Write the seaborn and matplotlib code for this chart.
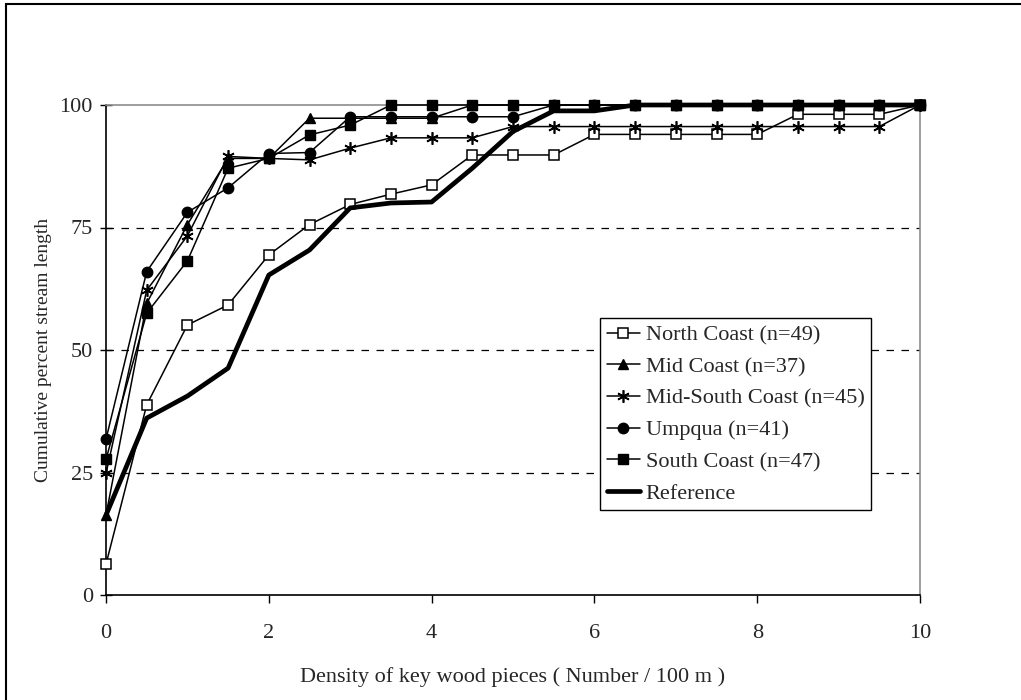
import numpy as np
import pandas as pd
import matplotlib
matplotlib.use("Agg")
import matplotlib.pyplot as plt
import seaborn as sns
from matplotlib.patches import Rectangle

# ---- data ----
density = [0, 0.5, 1, 1.5, 2, 2.5, 3, 3.5, 4, 4.5, 5, 5.5, 6, 6.5, 7, 7.5, 8, 8.5, 9, 9.5, 10]

north_coast = [6.3, 38.8, 55.1, 59.2, 69.4, 75.6, 79.7, 81.8, 83.7, 89.8, 89.8, 89.8, 94.0,
               94.0, 94.0, 94.0, 94.0, 98.1, 98.1, 98.1, 100]
mid_coast = [16.3, 59.5, 75.6, 89.1, 89.1, 97.3, 97.3, 97.3, 97.3, 100, 100, 100, 100,
             100, 100, 100, 100, 100, 100, 100, 100]
mid_south_coast = [24.8, 62.2, 73.3, 89.5, 89.1, 88.8, 91.2, 93.3, 93.3, 93.3, 95.6, 95.6, 95.6,
                   95.6, 95.6, 95.6, 95.6, 95.6, 95.6, 95.6, 100]
umpqua = [31.8, 66.0, 78.1, 83.1, 90.1, 90.3, 97.6, 97.6, 97.6, 97.6, 97.6, 100, 100,
          100, 100, 100, 100, 100, 100, 100, 100]
south_coast = [27.7, 57.5, 68.2, 87.1, 89.1, 93.9, 95.9, 100, 100, 100, 100, 100, 100,
               100, 100, 100, 100, 100, 100, 100, 100]
reference = [16.3, 36.1, 40.6, 46.3, 65.3, 70.4, 79.0, 80.0, 80.2, 87.1, 94.6, 98.8, 98.8,
             100, 100, 100, 100, 100, 100, 100, 100]

series_names = ["North Coast (n=49)", "Mid Coast (n=37)", "Mid-South Coast (n=45)",
                "Umpqua (n=41)", "South Coast (n=47)", "Reference"]
series_values = [north_coast, mid_coast, mid_south_coast, umpqua, south_coast, reference]

x_ticks = [0, 2, 4, 6, 8, 10]
y_ticks = [0, 25, 50, 75, 100]

df = pd.DataFrame({
    "density": np.tile(density, len(series_names)),
    "value": np.concatenate(series_values),
    "series": np.repeat(series_names, len(density)),
})

# ---- style ----
sns.set_style("white")
plt.rcParams["font.family"] = ["Liberation Serif", "DejaVu Serif"]
plt.rcParams["font.size"] = 16

fig = plt.figure(figsize=(10.21, 7.0), dpi=100)
ax = fig.add_axes([106 / 1021, 1 - 595 / 700, (920 - 106) / 1021, (595 - 105) / 700])

styles = {
    "North Coast (n=49)": dict(marker="s", mfc="white", mec="black", ms=6.5, mew=1.1, lw=1.1),
    "Mid Coast (n=37)": dict(marker="^", mfc="black", mec="black", ms=7.5, mew=1, lw=1.1),
    "Mid-South Coast (n=45)": dict(marker=(6, 2, 0), mfc="black", mec="black", ms=9, mew=1.2, lw=1.1),
    "Umpqua (n=41)": dict(marker="o", mfc="black", mec="black", ms=7.5, mew=1, lw=1.1),
    "South Coast (n=47)": dict(marker="s", mfc="black", mec="black", ms=7, mew=1, lw=1.1),
    "Reference": dict(marker=None, lw=3.4),
}

for name in series_names:
    st = styles[name]
    sub = df[df["series"] == name]
    kw = dict(color="black", linewidth=st["lw"], clip_on=False, zorder=5 if name == "Reference" else 4)
    if st["marker"] is not None:
        kw.update(marker=st["marker"], markerfacecolor=st["mfc"], markeredgecolor=st["mec"],
                  markersize=st["ms"], markeredgewidth=st["mew"])
    sns.lineplot(data=sub, x="density", y="value", ax=ax, label=name, **kw)

ax.set_xlim(0, 10)
ax.set_ylim(0, 100)
ax.set_xticks(x_ticks)
ax.set_yticks(y_ticks)
ax.set_xticklabels([str(t) for t in x_ticks])
ax.set_yticklabels([str(t) for t in y_ticks])

for y in [25, 50, 75]:
    ax.axhline(y, color="black", lw=0.9, ls=(0, (6, 6)), zorder=1)

ax.spines["left"].set_color("black")
ax.spines["bottom"].set_color("black")
ax.spines["left"].set_linewidth(1.2)
ax.spines["bottom"].set_linewidth(1.2)
ax.spines["top"].set_color("#8c8c8c")
ax.spines["right"].set_color("#8c8c8c")
ax.spines["top"].set_linewidth(1.2)
ax.spines["right"].set_linewidth(1.2)
for s in ax.spines.values():
    s.set_visible(True)

ax.tick_params(axis="y", direction="inout", length=9, width=1, color="black", pad=5, left=True, labelsize=16)
ax.tick_params(axis="x", direction="out", length=6, width=1, color="black", pad=15, bottom=True, labelsize=16)

ax.set_xlabel("Density of key wood pieces ( Number / 100 m )", fontsize=16, labelpad=17)
ax.set_ylabel("Cumulative percent stream length", fontsize=14, labelpad=5)

leg = ax.legend(loc="upper left", bbox_to_anchor=(0.607, 0.565), frameon=True, fancybox=False,
                edgecolor="black", framealpha=1, fontsize=16, handlelength=1.5, handletextpad=0.25,
                labelspacing=0.5, borderpad=0.3, borderaxespad=0)
leg.get_frame().set_linewidth(1.0)

# figure border (only top/left visible in the reference crop)
top = 1 - 4 / 700
fig.patches.append(Rectangle((6 / 1021, -0.2), 1.2, top + 0.2, transform=fig.transFigure,
                             fill=False, edgecolor="black", lw=1.5, clip_on=False))

fig.savefig("out.png", dpi=100)
